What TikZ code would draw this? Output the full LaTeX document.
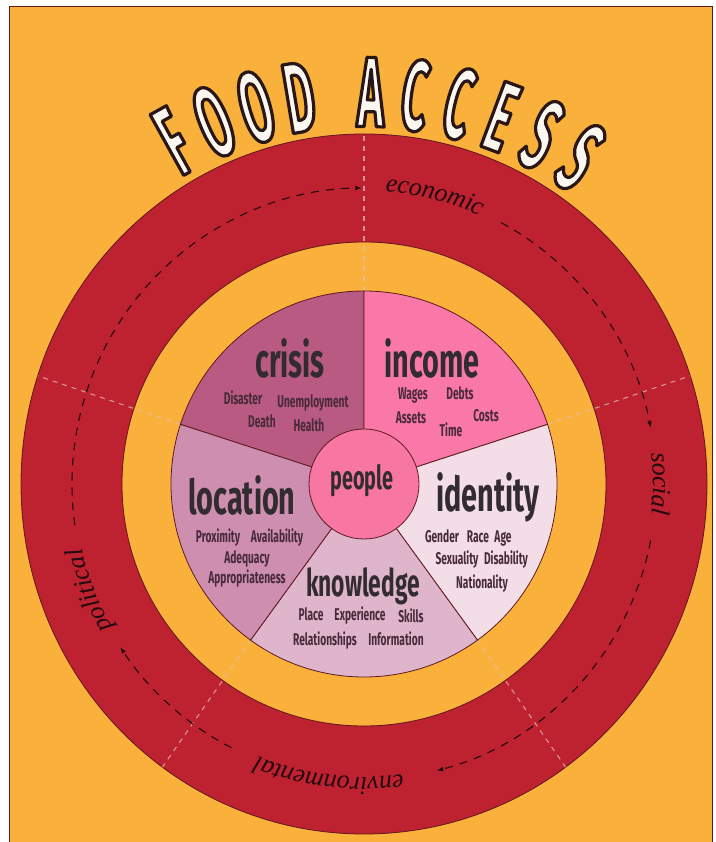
\documentclass[tikz,border=0pt]{standalone}
\usepackage{fontspec}
\setmainfont{Liberation Serif}
\newfontfamily\headfont[FakeStretch=0.6]{Fira Sans}
\newfontfamily\titlefam[FakeStretch=0.45]{Fira Sans}
\usetikzlibrary{decorations.text}

\definecolor{bgorange}{RGB}{250,177,60}
\definecolor{ringred}{RGB}{190,33,48}
\definecolor{edgecol}{RGB}{95,25,30}
\definecolor{crisiscol}{RGB}{185,90,130}
\definecolor{incomecol}{RGB}{249,120,168}
\definecolor{identitycol}{RGB}{243,221,230}
\definecolor{knowcol}{RGB}{222,181,203}
\definecolor{loccol}{RGB}{205,142,176}
\definecolor{peoplecol}{RGB}{248,119,162}
\definecolor{headtext}{RGB}{50,44,48}
\definecolor{itemtext}{RGB}{72,42,58}
\definecolor{ringtext}{RGB}{35,10,15}
\definecolor{divcol}{RGB}{225,188,178}
\definecolor{titlefill}{RGB}{250,246,240}

% outlined letter: fill, then stroke in dark
\newcommand\outlined[1]{\special{pdf:code 0.16 0.09 0.09 RG 3.2 w 1 j 2 Tr}#1\special{pdf:code 0 Tr}}
\newcommand\ringfont{\fontsize{26}{26}\selectfont\itshape}

\begin{document}
\begin{tikzpicture}[x=1pt, y=1pt,
	head/.style={font=\headfont\bfseries\fontsize{#1}{#1}\selectfont, text=headtext, anchor=base, inner sep=0},
	head/.default=48,
	item/.style={font=\headfont\bfseries\fontsize{17}{17}\selectfont, text=itemtext, anchor=base, inner sep=0},
	titlechar/.style={font=\titlefam\bfseries\fontsize{100}{100}\selectfont, text=titlefill, inner sep=0},
	ringline/.style={draw=ringtext, line width=1.1pt, dash pattern=on 8pt off 7pt},
	divline/.style={draw=divcol, line width=1.1pt, dash pattern=on 5pt off 5pt, opacity=0.75},
	ringword/.style={decorate, decoration={text along path, text={|\ringfont|#1}, text align=center, text color=ringtext, raise=-3pt}}]
	\useasboundingbox (-364,-358) rectangle (351,484);
	\fill[white] (-364,-358) rectangle (351,484);
	\filldraw[fill=bgorange, draw=edgecol, line width=1pt] (-354,-365) rectangle (348,477);
	% outer ring
	\filldraw[fill=ringred, draw=edgecol, line width=0.8pt, even odd rule]
		(0,0) ellipse[x radius=343pt, y radius=350pt] (0,0) circle[radius=242pt];
	\foreach \a in {90,18,-54,-126,162}
		\draw[divline] (\a:193pt) -- (\a:343pt and 350pt);
	% dashed cycle with its four words
	\foreach \s/\e in {188/90.5, 62/11, -11/-75.5, -117/-146.5}
		\draw[ringline, -latex] (\s:292pt and 296pt) arc[start angle=\s, end angle=\e, x radius=292pt, y radius=296pt];
	\foreach \w/\s/\e in {economic/89/63, social/9/-9, environmental/-79/-115, political/213/189}
		\path[ringword=\w] (\s:292pt and 296pt) arc[start angle=\s, end angle=\e, x radius=292pt, y radius=296pt];
	% pie
	\foreach \s/\e/\c in {90/162/crisiscol, 18/90/incomecol, -54/18/identitycol, -126/-54/knowcol, 162/234/loccol}
		\filldraw[fill=\c, draw=edgecol, line width=0.8pt] (0,0) -- (\s:193pt) arc[start angle=\s, end angle=\e, radius=193pt] -- cycle;
	\filldraw[fill=peoplecol, draw=edgecol, line width=0.8pt] (0,0) circle[radius=55pt];
	\node[head=33] (people) at (-2,-6) {people};
	\node[head] (crisis) at (-74,106) {crisis};
	\node[head] (income) at (68,106) {income};
	\node[head] (identity) at (124,-28) {identity};
	\node[head] (location) at (-122,-31) {location};
	\node[head=38] (knowledge) at (-1,-112) {knowledge};
	\foreach \t/\x/\y in {Disaster/-121/79, Unemployment/-51/76, Death/-102/56, Health/-55/52,
		Wages/49/84, Debts/96/84, Assets/47/60, Costs/122/62, Time/87/47,
		Proximity/-146/-59, Availability/-87/-59, Adequacy/-117/-80, Appropriateness/-117/-99,
		Gender/78/-59, Race/114/-59, Age/139/-59, Sexuality/93/-81, Disability/142/-81, Nationality/118/-104,
		Place/-53/-136, Experience/-4/-136, Skills/47/-138, Relationships/-39/-161, Information/32/-161}
		\node[item] (\t) at (\x,\y) {\t};
	% title on an arc
	\foreach \ch/\ang [count=\i] in {F/119, O/112.5, O/106, D/99.5, A/89, C/82.5, C/76, E/69.5, S/63, S/56.5}
		\node[titlechar, rotate=\ang-90] (title\i) at (\ang:392pt) {\outlined{\ch}};
\end{tikzpicture}
\end{document}
